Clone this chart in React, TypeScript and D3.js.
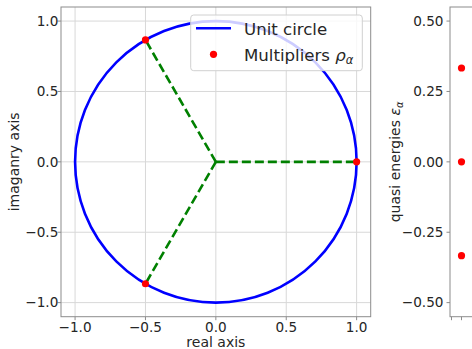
import { useEffect, useRef } from 'react';
import * as d3 from 'd3';

// Floquet multipliers on the unit circle
const multRe = [1.0, -0.5, -0.5];
const multIm = [0.0, 0.866, -0.866];
// quasi energies of the same states
const quasiEnergies = [0.3333, 0.0, -0.3333];
const quasiX = [0, 0, 0];

const leftTicks = [-1.0, -0.5, 0.0, 0.5, 1.0];
const rightYTicks = [-0.5, -0.25, 0.0, 0.25, 0.5];
const rightXTicks = [-1, 0];

const W = 472;
const H = 349;
const FONT = 'DejaVu Sans, sans-serif';

const App = () => {
    const ref = useRef<SVGSVGElement | null>(null);

    useEffect(() => {
        if (!ref.current) return;
        const svg = d3.select(ref.current);
        svg.selectAll('*').remove();

        const top = 7, bottom = 316.7;
        const x = d3.scaleLinear().domain([-1.1, 1.1]).range([61, 370.7]);
        const y = d3.scaleLinear().domain([-1.1, 1.1]).range([bottom, top]);

        const grid = '#d8d8d8';
        const spine = '#8c8c8c';
        const fmt = d3.format('.1f');
        const tickSize = 13.6;

        const g = svg.append('g');
        g.append('rect')
            .attr('x', x(-1.1)).attr('y', top)
            .attr('width', x(1.1) - x(-1.1)).attr('height', bottom - top)
            .attr('fill', 'white');

        // grid
        g.selectAll('line.gx').data(leftTicks).join('line')
            .attr('x1', d => x(d)).attr('x2', d => x(d))
            .attr('y1', top).attr('y2', bottom)
            .attr('stroke', grid).attr('stroke-width', 1);
        g.selectAll('line.gy').data(leftTicks).join('line')
            .attr('class', 'gy')
            .attr('y1', d => y(d)).attr('y2', d => y(d))
            .attr('x1', x(-1.1)).attr('x2', x(1.1))
            .attr('stroke', grid).attr('stroke-width', 1);

        // dashed spokes
        multRe.forEach((re, i) => {
            g.append('line')
                .attr('x1', x(0)).attr('y1', y(0))
                .attr('x2', x(re)).attr('y2', y(multIm[i]))
                .attr('stroke', '#008000').attr('stroke-width', 2.6)
                .attr('stroke-dasharray', '9,4');
        });

        // unit circle
        g.append('ellipse')
            .attr('cx', x(0)).attr('cy', y(0))
            .attr('rx', x(1) - x(0)).attr('ry', y(0) - y(1))
            .attr('fill', 'none').attr('stroke', '#0000ff').attr('stroke-width', 2.6);

        g.selectAll('circle.m').data(multRe).join('circle')
            .attr('cx', d => x(d)).attr('cy', (d, i) => y(multIm[i]))
            .attr('r', 3.6).attr('fill', '#ff0000');

        // spines
        g.append('rect')
            .attr('x', x(-1.1)).attr('y', top)
            .attr('width', x(1.1) - x(-1.1)).attr('height', bottom - top)
            .attr('fill', 'none').attr('stroke', spine).attr('stroke-width', 1);

        // ticks and labels
        g.selectAll('line.tx').data(leftTicks).join('line')
            .attr('class', 'tx')
            .attr('x1', d => x(d)).attr('x2', d => x(d))
            .attr('y1', bottom).attr('y2', bottom + 3.5)
            .attr('stroke', spine);
        g.selectAll('text.tx').data(leftTicks).join('text')
            .attr('class', 'tx')
            .attr('x', d => x(d)).attr('y', bottom + 15.3)
            .attr('text-anchor', 'middle')
            .attr('font-family', FONT).attr('font-size', tickSize).attr('fill', '#262626')
            .text(d => fmt(d));
        g.selectAll('line.ty').data(leftTicks).join('line')
            .attr('class', 'ty')
            .attr('y1', d => y(d)).attr('y2', d => y(d))
            .attr('x1', x(-1.1) - 3.5).attr('x2', x(-1.1))
            .attr('stroke', spine);
        g.selectAll('text.ty').data(leftTicks).join('text')
            .attr('class', 'ty')
            .attr('x', x(-1.1) - 2.7).attr('y', d => y(d))
            .attr('dy', '0.35em')
            .attr('text-anchor', 'end')
            .attr('font-family', FONT).attr('font-size', tickSize).attr('fill', '#262626')
            .text(d => fmt(d));

        g.append('text')
            .attr('x', (x(-1.1) + x(1.1)) / 2).attr('y', 347)
            .attr('text-anchor', 'middle')
            .attr('font-family', FONT).attr('font-size', 14).attr('fill', '#262626')
            .text('real axis');
        g.append('text')
            .attr('transform', `translate(18.5,${(top + bottom) / 2}) rotate(-90)`)
            .attr('text-anchor', 'middle')
            .attr('font-family', FONT).attr('font-size', 14).attr('fill', '#262626')
            .text('imaganry axis');

        // legend
        const lg = g.append('g');
        lg.append('rect')
            .attr('x', 190.7).attr('y', 15).attr('width', 171.6).attr('height', 55.7)
            .attr('rx', 3)
            .attr('fill', 'white').attr('fill-opacity', 0.8)
            .attr('stroke', '#d0d0d0').attr('stroke-width', 1);
        lg.append('line')
            .attr('x1', 196).attr('x2', 231).attr('y1', 28.3).attr('y2', 28.3)
            .attr('stroke', '#0000ff').attr('stroke-width', 2.6);
        lg.append('circle')
            .attr('cx', 213.5).attr('cy', 54.3).attr('r', 3.6).attr('fill', '#ff0000');
        lg.append('text')
            .attr('x', 244).attr('y', 34.5)
            .attr('font-family', FONT).attr('font-size', 16.6).attr('fill', '#262626')
            .text('Unit circle');
        const t2 = lg.append('text')
            .attr('x', 244).attr('y', 60.5)
            .attr('font-family', FONT).attr('font-size', 16.6).attr('fill', '#262626');
        t2.append('tspan').text('Multipliers ');
        t2.append('tspan').attr('font-style', 'italic').text('ρ');
        t2.append('tspan').attr('font-style', 'italic').attr('font-size', 11.5)
            .attr('dy', 3).text('α');

        // right panel: quasi energies
        const rx = d3.scaleLinear().domain([-1.15, 30]).range([450, 450 + 31.15 * 10]);
        const ry = d3.scaleLinear().domain([-0.55, 0.55]).range([bottom, top]);
        const fmt2 = d3.format('.2f');
        const r = svg.append('g');

        r.append('rect')
            .attr('x', 450).attr('y', top).attr('width', 300).attr('height', bottom - top)
            .attr('fill', 'white').attr('stroke', spine).attr('stroke-width', 1);
        r.selectAll('circle').data(quasiEnergies).join('circle')
            .attr('cx', (d, i) => rx(quasiX[i])).attr('cy', d => ry(d))
            .attr('r', 3.6).attr('fill', '#ff0000');
        r.selectAll('line.ty').data(rightYTicks).join('line')
            .attr('class', 'ty')
            .attr('y1', d => ry(d)).attr('y2', d => ry(d))
            .attr('x1', 450 - 3.5).attr('x2', 450)
            .attr('stroke', spine);
        r.selectAll('text.ty').data(rightYTicks).join('text')
            .attr('class', 'ty')
            .attr('x', 443.5).attr('y', d => ry(d)).attr('dy', '0.35em')
            .attr('text-anchor', 'end')
            .attr('font-family', FONT).attr('font-size', tickSize).attr('fill', '#262626')
            .text(d => fmt2(d));
        r.selectAll('line.tx').data(rightXTicks).join('line')
            .attr('class', 'tx')
            .attr('x1', d => rx(d)).attr('x2', d => rx(d))
            .attr('y1', bottom).attr('y2', bottom + 3.5)
            .attr('stroke', spine);
        const ql = r.append('text')
            .attr('transform', `translate(400,${(top + bottom) / 2}) rotate(-90)`)
            .attr('text-anchor', 'middle')
            .attr('font-family', FONT).attr('font-size', 14).attr('fill', '#262626');
        ql.append('tspan').text('quasi energies ');
        ql.append('tspan').attr('font-style', 'italic').text('ε');
        ql.append('tspan').attr('font-style', 'italic').attr('font-size', 10)
            .attr('dy', 3).text('α');
    }, []);

    return (
        <svg ref={ref} width={W} height={H}
            style={{ position: 'absolute', left: 0, top: 0, background: 'white' }} />
    );
};

export default App;
